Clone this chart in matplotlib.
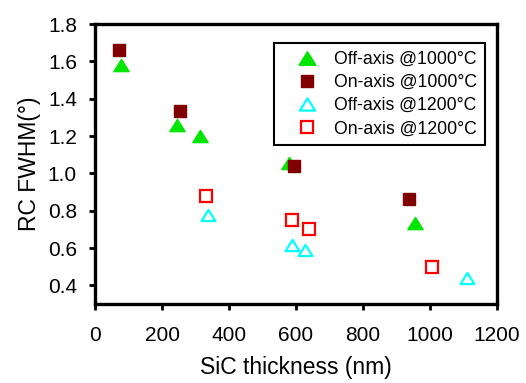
import matplotlib
matplotlib.use("Agg")
import matplotlib.pyplot as plt
from matplotlib.path import Path

plt.rcParams['font.family'] = ['Liberation Sans', 'DejaVu Sans']

off_1000_x = [77, 246, 313, 578, 954]
off_1000_y = [1.58, 1.26, 1.20, 1.055, 0.735]
on_1000_x = [73, 253, 595, 937]
on_1000_y = [1.66, 1.335, 1.04, 0.86]
off_1200_x = [337, 587, 627, 1110]
off_1200_y = [0.775, 0.615, 0.59, 0.44]
on_1200_x = [332, 587, 638, 1005]
on_1200_y = [0.88, 0.75, 0.70, 0.50]

xticks = [0, 200, 400, 600, 800, 1000, 1200]
yticks = [0.4, 0.6, 0.8, 1.0, 1.2, 1.4, 1.6, 1.8]

fig = plt.figure(figsize=(5.26, 3.83), dpi=100)
ax = fig.add_axes([95/526, 1-304/383, (497-95)/526, (304-24)/383])

tri = Path([(-0.5, -0.4), (0.5, -0.4), (0, 0.4), (-0.5, -0.4)],
           [Path.MOVETO, Path.LINETO, Path.LINETO, Path.CLOSEPOLY])

ax.plot(off_1000_x, off_1000_y, marker=tri, color='#00e600', markersize=11, linestyle='none',
        label='Off-axis @1000°C')
ax.plot(on_1000_x, on_1000_y, 's', color='#800000', markersize=8, linestyle='none',
        label='On-axis @1000°C')
ax.plot(off_1200_x, off_1200_y, marker=tri, markerfacecolor='none', markeredgecolor='#00ffff',
        markeredgewidth=1.6, markersize=10, linestyle='none', label='Off-axis @1200°C')
ax.plot(on_1200_x, on_1200_y, 's', markerfacecolor='none', markeredgecolor='#ff0000',
        markeredgewidth=1.6, markersize=8, linestyle='none', label='On-axis @1200°C')

ax.set_xlim(0, 1200)
ax.set_ylim(0.3, 1.8)
ax.set_xticks(xticks)
ax.set_yticks(yticks)
ax.set_yticklabels([f"{v:.1f}" for v in yticks])
ax.tick_params(direction='out', length=4, width=2, labelsize=15)
ax.tick_params(axis='x', pad=12)
ax.tick_params(axis='y', pad=9)
for s in ax.spines.values():
    s.set_linewidth(2.4)
ax.set_xlabel('SiC thickness (nm)', fontsize=16.5, labelpad=8)
ax.set_ylabel('RC FWHM(°)', fontsize=16.5, labelpad=5)

leg = ax.legend(loc='upper left', bbox_to_anchor=((274-95)/402, (304-43)/280), fontsize=12.7,
                frameon=True, fancybox=False, edgecolor='black', framealpha=1,
                handletextpad=0.15, borderpad=0.45, labelspacing=0.35, handlelength=2.8,
                borderaxespad=0, markerscale=1.1)
leg.get_frame().set_linewidth(1.5)

fig.savefig('out.png', dpi=100)
